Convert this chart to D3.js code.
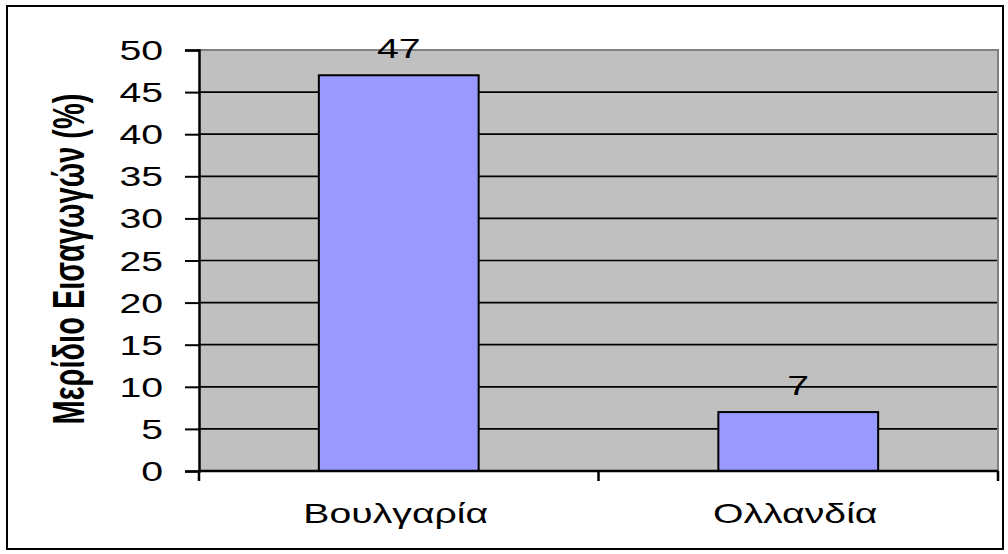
<!DOCTYPE html>
<html>
<head>
<meta charset="utf-8">
<script src="https://cdn.jsdelivr.net/npm/d3@7"></script>
<style>
  body { margin: 0; background: #fff; }
  text { font-family: Arial, "Liberation Sans", sans-serif; fill: #000; }
</style>
</head>
<body>
<script>
// chart data
var countries = ["Βουλγαρία", "Ολλανδία"];
var shares = [47, 7];
var yTicks = [0, 5, 10, 15, 20, 25, 30, 35, 40, 45, 50];
var yTitle = "Μερίδιο Εισαγωγών (%)";

var W = 1008, H = 554;
var plot = {left: 199, right: 998, top: 50, bottom: 471};
var sx = 1.4; // the picture is stretched sideways

var svg = d3.select("body").append("svg")
    .attr("width", W)
    .attr("height", H);

// outer frame
svg.append("rect")
    .attr("x", 7).attr("y", 6)
    .attr("width", 996).attr("height", 543)
    .attr("fill", "#fff")
    .attr("stroke", "#000")
    .attr("stroke-width", 2);

var x = d3.scaleBand()
    .domain(countries)
    .range([plot.left, plot.right])
    .paddingInner(0.6)
    .paddingOuter(0.3);

var y = d3.scaleLinear()
    .domain([0, 50])
    .range([plot.bottom, plot.top]);

// plot background
svg.append("rect")
    .attr("x", plot.left).attr("y", plot.top)
    .attr("width", plot.right - plot.left)
    .attr("height", plot.bottom - plot.top)
    .attr("fill", "#c0c0c0");

// grid lines
svg.selectAll(".grid")
    .data(yTicks.filter(function(d) { return d > 0 && d < 50; }))
    .enter().append("line")
    .attr("class", "grid")
    .attr("x1", plot.left).attr("x2", plot.right)
    .attr("y1", function(d) { return y(d); })
    .attr("y2", function(d) { return y(d); })
    .attr("stroke", "#000")
    .attr("stroke-width", 1.7);

// plot border top / right (grey)
svg.append("path")
    .attr("d", "M" + plot.left + "," + plot.top + "H" + plot.right + "V" + plot.bottom)
    .attr("fill", "none")
    .attr("stroke", "#808080")
    .attr("stroke-width", 2);

// bars
svg.selectAll(".bar")
    .data(shares)
    .enter().append("rect")
    .attr("class", "bar")
    .attr("x", function(d, i) { return x(countries[i]); })
    .attr("width", x.bandwidth())
    .attr("y", function(d) { return y(d); })
    .attr("height", function(d) { return y(0) - y(d); })
    .attr("fill", "#9999ff")
    .attr("stroke", "#000")
    .attr("stroke-width", 2);

// value labels
svg.selectAll(".val")
    .data(shares)
    .enter().append("text")
    .attr("class", "val")
    .attr("text-anchor", "middle")
    .attr("font-size", 28)
    .attr("transform", function(d, i) {
      return "translate(" + (x(countries[i]) + x.bandwidth() / 2) + "," + (y(d) - 17) + ") scale(" + sx + ",1)";
    })
    .text(function(d) { return d; });

// y axis
var yAxis = svg.append("g")
    .attr("transform", "translate(" + plot.left + ",0)")
    .call(d3.axisLeft(y).tickValues(yTicks).tickSize(14).tickPadding(0).tickFormat(""));
yAxis.select(".domain").attr("stroke", "#000").attr("stroke-width", 2.5);
yAxis.selectAll(".tick line").attr("stroke", "#000").attr("stroke-width", 2);

svg.selectAll(".ylab")
    .data(yTicks)
    .enter().append("text")
    .attr("class", "ylab")
    .attr("text-anchor", "end")
    .attr("font-size", 28)
    .attr("transform", function(d) { return "translate(163," + (y(d) + 10) + ") scale(" + sx + ",1)"; })
    .text(function(d) { return d; });

// x axis
var step = x.step();
var bounds = [plot.left];
countries.forEach(function(c) { bounds.push(x(c) + x.bandwidth() + step * 0.3); });

svg.append("line")
    .attr("x1", plot.left - 1).attr("x2", plot.right)
    .attr("y1", plot.bottom).attr("y2", plot.bottom)
    .attr("stroke", "#000").attr("stroke-width", 2.5);

svg.selectAll(".xtick")
    .data(bounds)
    .enter().append("line")
    .attr("class", "xtick")
    .attr("x1", function(d) { return d; })
    .attr("x2", function(d) { return d; })
    .attr("y1", plot.bottom).attr("y2", plot.bottom + 10)
    .attr("stroke", "#000").attr("stroke-width", 2.5);

svg.selectAll(".xlab")
    .data(countries)
    .enter().append("text")
    .attr("class", "xlab")
    .attr("text-anchor", "middle")
    .attr("font-size", 28)
    .attr("transform", function(d) { return "translate(" + (x(d) + x.bandwidth() / 2 - 3) + ",523) scale(" + sx + ",1)"; })
    .text(function(d) { return d; });

// y title
svg.append("text")
    .attr("text-anchor", "middle")
    .attr("font-size", 29)
    .attr("font-weight", "bold")
    .attr("transform", "translate(84,259) scale(1.5,1) rotate(-90)")
    .text(yTitle);
</script>
</body>
</html>
